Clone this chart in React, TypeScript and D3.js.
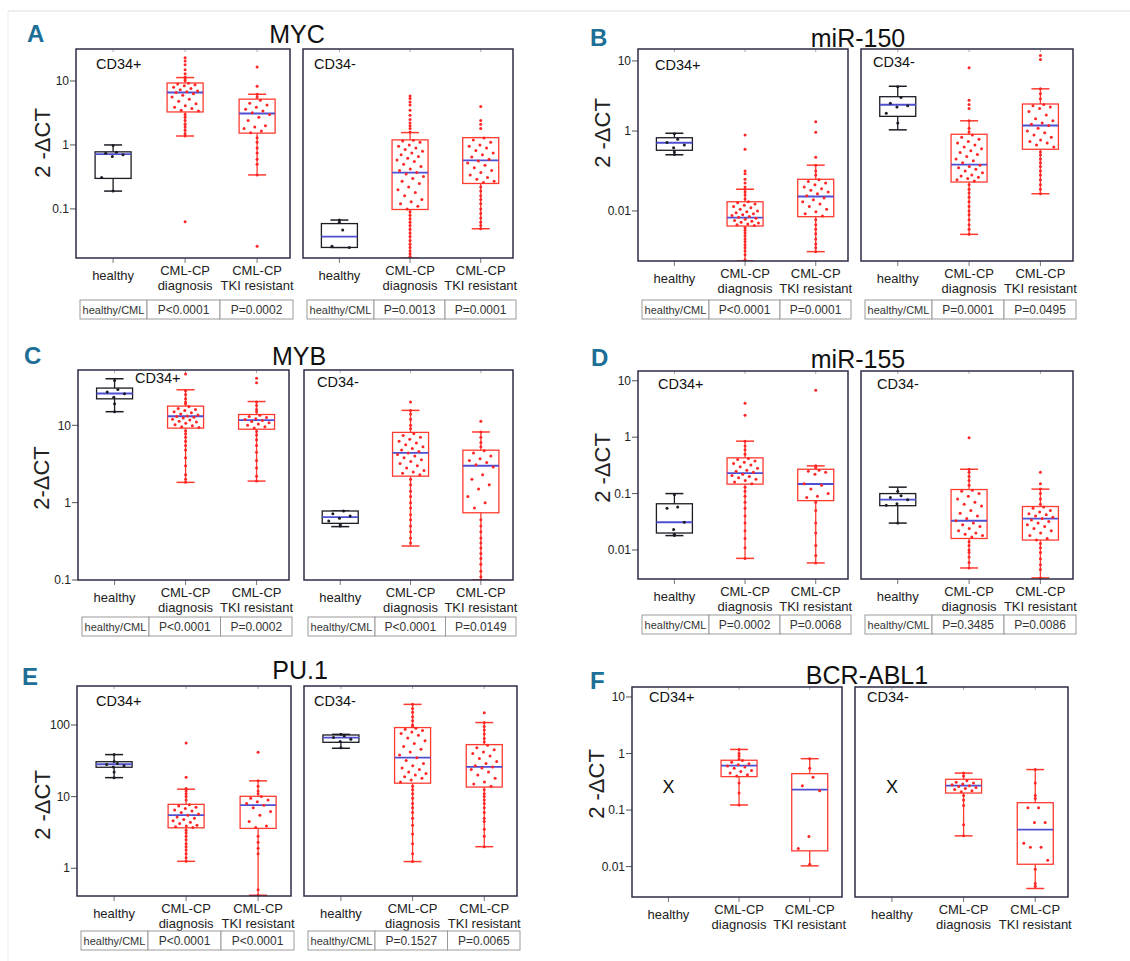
import React from 'react';
import * as d3 from 'd3';

// ---------- categories & labels ----------
const categories = ['healthy', 'CML-CP diagnosis', 'CML-CP TKI resistant'];
const categoryLines = [['healthy'], ['CML-CP', 'diagnosis'], ['CML-CP', 'TKI resistant']];
const subsetLabels = ['CD34+', 'CD34-'];
const tableHeader = 'healthy/CML';

// ---------- tick values ----------
const mycTicks = [0.1, 1, 10];
const mir150Ticks = [0.01, 1, 10];
const mybTicks = [0.1, 1, 10];
const mir155Ticks = [0.01, 0.1, 1, 10];
const pu1Ticks = [1, 10, 100];
const bcrTicks = [0.01, 0.1, 1, 10];

// ---------- box stats: [whiskerLow, q1, median, q3, whiskerHigh] ----------
// ---------- MYC ----------
const mycPlusStats = [[0.19, 0.30, 0.72, 0.78, 1.0], [1.38, 3.28, 6.6, 9.3, 11.3], [0.34, 1.53, 3.1, 5.2, 6.2]];
const mycPlusPoints = [
  [0.98, 0.77, 0.74, 0.70, 0.66, 0.31, 0.19],
  [23, 20.5, 18, 15, 13, 11.5, 10.8, 10.2, 9.2, 9.0, 8.7, 8.4, 8.0, 7.6, 7.3, 7.0, 6.8, 6.6, 6.3, 6.0, 5.6, 5.2, 4.8, 4.4, 4.1, 3.9, 3.7, 3.5, 3.4, 3.0, 2.7, 2.4, 2.1, 1.9, 1.7, 1.5, 1.38, 0.063],
  [16.5, 8.3, 6.2, 5.6, 5.0, 4.5, 4.2, 3.9, 3.6, 3.4, 3.2, 3.0, 2.7, 2.4, 2.0, 1.9, 1.8, 1.65, 1.55, 1.3, 1.1, 0.9, 0.75, 0.6, 0.5, 0.34, 0.026],
];
const mycMinusStats = [[0.025, 0.025, 0.037, 0.059, 0.067], [0.017, 0.098, 0.37, 1.2, 1.56], [0.049, 0.25, 0.575, 1.3, 1.3]];
const mycMinusPoints = [
  [0.067, 0.062, 0.047, 0.026, 0.025],
  [5.8, 5.3, 4.7, 4.2, 3.5, 2.9, 2.5, 2.2, 2.0, 1.8, 1.6, 1.18, 1.15, 1.1, 1.0, 0.95, 0.9, 0.85, 0.8, 0.75, 0.7, 0.66, 0.62, 0.58, 0.55, 0.5, 0.46, 0.42, 0.4, 0.37, 0.35, 0.32, 0.3, 0.27, 0.25, 0.22, 0.2, 0.18, 0.16, 0.14, 0.13, 0.12, 0.11, 0.1, 0.09, 0.08, 0.07, 0.062, 0.055, 0.048, 0.042, 0.037, 0.032, 0.028, 0.025, 0.022, 0.02, 0.018],
  [4.0, 2.4, 2.1, 1.8, 1.28, 1.2, 1.1, 1.0, 0.95, 0.9, 0.82, 0.75, 0.7, 0.65, 0.6, 0.56, 0.52, 0.48, 0.44, 0.4, 0.37, 0.34, 0.31, 0.29, 0.27, 0.26, 0.22, 0.19, 0.16, 0.14, 0.12, 0.1, 0.085, 0.072, 0.062, 0.055, 0.049],
];
const mycPValues = ['P<0.0001', 'P=0.0002', 'P=0.0013', 'P=0.0001'];

// ---------- miR-150 ----------
const mir150PlusStats = [[0.255, 0.33, 0.51, 0.68, 0.88], [0.00056, 0.0042, 0.0068, 0.017, 0.035], [0.00096, 0.0072, 0.023, 0.062, 0.14]];
const mir150PlusPoints = [
  [0.85, 0.62, 0.52, 0.45, 0.38, 0.30, 0.26],
  [0.8, 0.35, 0.1, 0.085, 0.062, 0.05, 0.04, 0.035, 0.03, 0.025, 0.02, 0.017, 0.016, 0.015, 0.014, 0.013, 0.012, 0.011, 0.01, 0.0095, 0.009, 0.0085, 0.008, 0.0077, 0.0073, 0.007, 0.0066, 0.0062, 0.0058, 0.0055, 0.0052, 0.005, 0.0047, 0.0045, 0.0043, 0.0038, 0.0033, 0.0028, 0.0024, 0.002, 0.0017, 0.0014, 0.0012, 0.001, 0.0008, 0.0006],
  [1.36, 0.93, 0.22, 0.14, 0.1, 0.08, 0.06, 0.055, 0.05, 0.045, 0.04, 0.036, 0.033, 0.03, 0.027, 0.024, 0.021, 0.019, 0.017, 0.015, 0.013, 0.011, 0.0095, 0.0085, 0.0075, 0.006, 0.0045, 0.0035, 0.0027, 0.002, 0.0015, 0.0012, 0.00096],
];
const mir150MinusStats = [[1.04, 1.62, 2.37, 3.09, 4.35], [0.0026, 0.053, 0.144, 0.83, 1.4], [0.027, 0.35, 1.2, 2.43, 4.0]];
const mir150MinusPoints = [
  [4.3, 3.0, 2.5, 2.3, 2.2, 1.8, 1.3],
  [8.0, 2.75, 2.4, 2.1, 1.4, 1.1, 0.95, 0.8, 0.7, 0.62, 0.55, 0.5, 0.45, 0.4, 0.36, 0.32, 0.29, 0.26, 0.23, 0.2, 0.18, 0.16, 0.14, 0.13, 0.12, 0.11, 0.1, 0.09, 0.08, 0.075, 0.07, 0.065, 0.06, 0.056, 0.045, 0.035, 0.028, 0.022, 0.017, 0.013, 0.01, 0.008, 0.006, 0.0045, 0.0035, 0.0026],
  [12, 10.5, 4.0, 3.4, 2.9, 2.4, 2.3, 2.2, 2.1, 1.9, 1.7, 1.5, 1.4, 1.3, 1.25, 1.2, 1.1, 1.0, 0.9, 0.8, 0.7, 0.6, 0.55, 0.5, 0.45, 0.4, 0.3, 0.25, 0.2, 0.16, 0.13, 0.1, 0.08, 0.06, 0.045, 0.035, 0.027],
];
const mir150PValues = ['P<0.0001', 'P=0.0001', 'P=0.0001', 'P=0.0495'];

// ---------- MYB ----------
const mybPlusStats = [[15, 22, 25.8, 30.3, 40], [1.83, 9.2, 13.1, 17.7, 28.8], [1.9, 8.9, 11.7, 13.8, 20.3]];
const mybPlusPoints = [
  [38, 29, 27, 25.5, 23, 19, 15],
  [46, 28, 25, 22, 20, 19, 17.5, 16.5, 16, 15.5, 15, 14.5, 14, 13.6, 13.2, 13, 12.7, 12.4, 12, 11.7, 11.3, 11, 10.6, 10.2, 9.9, 9.6, 9.4, 8.5, 7.8, 7.0, 6.2, 5.5, 4.8, 3.8, 3.0, 2.3, 2.0, 1.83],
  [40.5, 35.5, 20, 18, 16, 15, 13.5, 13, 12.6, 12.2, 11.9, 11.5, 11.2, 10.8, 10.4, 10, 9.6, 9.2, 8.3, 7.5, 6.5, 5.5, 4.5, 3.5, 2.8, 2.2, 1.9],
];
const mybMinusStats = [[0.49, 0.54, 0.65, 0.78, 0.78], [0.275, 2.2, 4.4, 8.1, 15.6], [0.1, 0.74, 3.0, 4.77, 8.2]];
const mybMinusPoints = [
  [0.78, 0.72, 0.67, 0.63, 0.58, 0.52, 0.5],
  [20, 15.6, 14, 12, 10, 9, 7.8, 7.4, 7, 6.6, 6.2, 5.9, 5.6, 5.3, 5, 4.8, 4.6, 4.4, 4.2, 4, 3.8, 3.6, 3.4, 3.2, 3, 2.8, 2.6, 2.5, 2.4, 2.3, 2.0, 1.7, 1.4, 1.2, 1.0, 0.85, 0.7, 0.6, 0.5, 0.42, 0.35, 0.3],
  [11.3, 8.2, 7, 6, 5.3, 4.7, 4.4, 4.0, 3.7, 3.5, 3.3, 3.1, 2.9, 2.3, 2.0, 1.7, 1.5, 1.2, 1.0, 0.85, 0.6, 0.5, 0.42, 0.35, 0.3, 0.26, 0.22, 0.19, 0.16, 0.13, 0.11, 0.1],
];
const mybPValues = ['P<0.0001', 'P=0.0002', 'P<0.0001', 'P=0.0149'];

// ---------- miR-155 ----------
const mir155PlusStats = [[0.018, 0.020, 0.031, 0.066, 0.10], [0.0071, 0.147, 0.23, 0.43, 0.85], [0.0059, 0.075, 0.148, 0.27, 0.31]];
const mir155PlusPoints = [
  [0.095, 0.058, 0.055, 0.031, 0.023, 0.019, 0.018],
  [4.0, 2.45, 0.85, 0.7, 0.6, 0.5, 0.42, 0.4, 0.38, 0.36, 0.34, 0.32, 0.3, 0.28, 0.26, 0.25, 0.24, 0.22, 0.21, 0.2, 0.19, 0.18, 0.17, 0.16, 0.15, 0.13, 0.11, 0.09, 0.07, 0.055, 0.04, 0.03, 0.022, 0.016, 0.011, 0.0071],
  [6.8, 0.31, 0.29, 0.26, 0.25, 0.24, 0.22, 0.15, 0.14, 0.12, 0.1, 0.09, 0.085, 0.07, 0.05, 0.03, 0.02, 0.012, 0.008, 0.0059],
];
const mir155MinusStats = [[0.03, 0.061, 0.078, 0.1, 0.13], [0.0048, 0.016, 0.033, 0.118, 0.27], [0.0032, 0.015, 0.036, 0.059, 0.12]];
const mir155MinusPoints = [
  [0.11, 0.092, 0.085, 0.078, 0.066, 0.062, 0.03],
  [0.98, 0.27, 0.24, 0.2, 0.17, 0.14, 0.115, 0.11, 0.1, 0.09, 0.08, 0.07, 0.065, 0.06, 0.05, 0.045, 0.04, 0.036, 0.033, 0.03, 0.028, 0.026, 0.024, 0.022, 0.02, 0.019, 0.018, 0.017, 0.014, 0.012, 0.01, 0.009, 0.0075, 0.006, 0.0048],
  [0.24, 0.15, 0.12, 0.1, 0.08, 0.065, 0.058, 0.055, 0.05, 0.047, 0.044, 0.042, 0.04, 0.038, 0.036, 0.034, 0.032, 0.03, 0.028, 0.026, 0.024, 0.022, 0.02, 0.018, 0.016, 0.015, 0.013, 0.011, 0.009, 0.007, 0.0055, 0.0045, 0.0032],
];
const mir155PValues = ['P=0.0002', 'P=0.0068', 'P=0.3485', 'P=0.0086'];

// ---------- PU.1 ----------
const pu1PlusStats = [[18.4, 25.7, 28.3, 30.7, 38.6], [1.25, 3.67, 5.5, 7.8, 12.7], [0.42, 3.6, 7.6, 10.1, 16.6]];
const pu1PlusPoints = [
  [38.6, 31, 29, 28, 27, 26, 22, 18.4],
  [56, 18.7, 13, 12, 11, 10, 9, 7.7, 7.4, 7.1, 6.8, 6.5, 6.3, 6.0, 5.7, 5.5, 5.2, 5.0, 4.8, 4.6, 4.4, 4.2, 4.0, 3.9, 3.8, 3.7, 3.4, 3.1, 2.8, 2.5, 2.2, 2.0, 1.8, 1.6, 1.4, 1.25],
  [41.6, 16.6, 14, 12, 11, 10, 9.5, 9, 8.5, 8, 7.6, 7, 6.2, 5.5, 4.5, 3.9, 3.7, 2.8, 2.3, 1.9, 1.6, 0.5, 0.42],
];
const pu1MinusStats = [[47.3, 57.3, 66.5, 72.5, 74], [1.24, 15.4, 35, 92, 194], [2.0, 13.6, 26, 53.2, 108]];
const pu1MinusPoints = [
  [74, 70, 67, 63, 59, 48],
  [194, 170, 150, 130, 115, 100, 95, 90, 87, 84, 80, 76, 72, 66, 60, 55, 50, 46, 42, 38, 35, 32, 29, 27, 25, 24, 22, 21, 20, 19, 18, 17, 16, 14, 12.5, 11, 9.5, 8, 7, 6, 5, 4, 3, 2.2, 1.6, 1.24],
  [148, 108, 95, 85, 75, 65, 58, 52, 48, 45, 42, 40, 37, 34, 31, 29, 27, 26, 25, 24, 22, 20, 18, 16, 15, 14, 12.5, 11, 10, 9, 8, 7, 6, 5, 4.5, 3.5, 2.8, 2.0],
];
const pu1PValues = ['P<0.0001', 'P<0.0001', 'P=0.1527', 'P=0.0065'];

// ---------- BCR-ABL1 (healthy not measured) ----------
const bcrPlusStats = [null, [0.123, 0.39, 0.61, 0.76, 1.18], [0.0103, 0.019, 0.23, 0.44, 0.81]];
const bcrPlusPoints = [
  [],
  [1.18, 1.0, 0.9, 0.8, 0.75, 0.7, 0.66, 0.63, 0.6, 0.58, 0.55, 0.5, 0.48, 0.45, 0.42, 0.4, 0.3, 0.2, 0.123],
  [0.81, 0.55, 0.38, 0.27, 0.22, 0.034, 0.021, 0.011],
];
const bcrMinusStats = [null, [0.035, 0.2, 0.27, 0.35, 0.45], [0.0041, 0.011, 0.045, 0.135, 0.52]];
const bcrMinusPoints = [
  [],
  [0.45, 0.4, 0.33, 0.31, 0.3, 0.29, 0.28, 0.27, 0.26, 0.25, 0.24, 0.23, 0.22, 0.21, 0.18, 0.15, 0.12, 0.055, 0.035],
  [0.52, 0.3, 0.18, 0.16, 0.11, 0.11, 0.06, 0.06, 0.026, 0.022, 0.022, 0.013, 0.009, 0.005, 0.0045],
];

// ---------- layout ----------
const PANELS = [
  {
    letter: 'A', title: 'MYC', letterXY: [27, 42], titleXY: [297, 43], yLabel: '2 -ΔCT', yLabelXY: [42, 143],
    yTop: 49, yBottom: 258, yDomain: [0.0171, 31.6], yFrac: [0, 1], ticks: mycTicks,
    boxes: [[76, 290], [303, 513]], cdXY: [[96, 69], [314, 69]], tableOffset: 42,
    stats: [mycPlusStats, mycMinusStats], points: [mycPlusPoints, mycMinusPoints], pvalues: mycPValues,
  },
  {
    letter: 'B', title: 'miR-150', letterXY: [590, 46], titleXY: [858, 47], yLabel: '2 -ΔCT', yLabelXY: [602, 133],
    yTop: 49, yBottom: 261, yDomain: [0.00056, 1, 14.8], yFrac: [0, 0.613, 1], ticks: mir150Ticks,
    boxes: [[638, 848], [861, 1073]], cdXY: [[655, 70], [873, 67]], tableOffset: 39,
    stats: [mir150PlusStats, mir150MinusStats], points: [mir150PlusPoints, mir150MinusPoints], pvalues: mir150PValues,
  },
  {
    letter: 'C', title: 'MYB', letterXY: [24, 364], titleXY: [299, 365], yLabel: '2-ΔCT', yLabelXY: [41, 478],
    yTop: 370, yBottom: 580, yDomain: [0.1, 51.9], yFrac: [0, 1], ticks: mybTicks,
    boxes: [[78, 289], [304, 513]], cdXY: [[135, 383], [317, 387]], tableOffset: 37,
    stats: [mybPlusStats, mybMinusStats], points: [mybPlusPoints, mybMinusPoints], pvalues: mybPValues,
  },
  {
    letter: 'D', title: 'miR-155', letterXY: [591, 366], titleXY: [858, 368], yLabel: '2 -ΔCT', yLabelXY: [602, 468],
    yTop: 371, yBottom: 579, yDomain: [0.00306, 14.9], yFrac: [0, 1], ticks: mir155Ticks,
    boxes: [[638, 848], [861, 1073]], cdXY: [[658, 389], [877, 389]], tableOffset: 36,
    stats: [mir155PlusStats, mir155MinusStats], points: [mir155PlusPoints, mir155MinusPoints], pvalues: mir155PValues,
  },
  {
    letter: 'E', title: 'PU.1', letterXY: [22, 685], titleXY: [300, 679], yLabel: '2 -ΔCT', yLabelXY: [42, 805],
    yTop: 686, yBottom: 896, yDomain: [0.41, 350], yFrac: [0, 1], ticks: pu1Ticks,
    boxes: [[77, 291], [304, 517]], cdXY: [[96, 706], [314, 706]], tableOffset: 35,
    stats: [pu1PlusStats, pu1MinusStats], points: [pu1PlusPoints, pu1MinusPoints], pvalues: pu1PValues,
  },
  {
    letter: 'F', title: 'BCR-ABL1', letterXY: [590, 689], titleXY: [867, 684], yLabel: '2 -ΔCT', yLabelXY: [596, 784],
    yTop: 687, yBottom: 897, yDomain: [0.0029, 15.0], yFrac: [0, 1], ticks: bcrTicks,
    boxes: [[632, 842], [855, 1068]], cdXY: [[649, 702], [867, 702]], tableOffset: null,
    stats: [bcrPlusStats, bcrMinusStats], points: [bcrPlusPoints, bcrMinusPoints], pvalues: null,
  },
];

const FONT = "'Liberation Sans', Arial, Helvetica, sans-serif";
const NARROW = "'Liberation Sans Narrow', 'Arial Narrow', sans-serif";
const FRAME = '#2d2d47';
const RED = '#ff3b30';
const DOT_RED = '#ff2626';
const HEALTHY = '#1c1c24';
const MEDIAN = '#4f4fd2';
const LETTER = '#1d6f97';
const BOX_W = 36;
const CAP_W = 18;

const jitter = (k: number) => ((((k + 1) * 0.6180339887) % 1) - 0.5) * 28;

function SubPlot({ p, s }: { p: any; s: number }) {
  const [x0, x1] = p.boxes[s];
  const x = d3.scalePoint<string>().domain(categories).range([x0, x1]).padding(0.486).align(0.53);
  const y = d3
    .scaleLog()
    .domain(p.yDomain)
    .range(p.yFrac.map((f: number) => p.yBottom - f * (p.yBottom - p.yTop)));
  const clipId = `clip-${p.letter}-${s}`;
  const stats = p.stats[s];
  const points = p.points[s];
  return (
    <g>
      <defs>
        <clipPath id={clipId}>
          <rect x={x0} y={p.yTop} width={x1 - x0} height={p.yBottom - p.yTop} />
        </clipPath>
      </defs>
      {categories.map((c) => (
        <g key={c}>
          <line x1={x(c)} x2={x(c)} y1={p.yBottom} y2={p.yBottom + 5} stroke="#777" strokeWidth={1} />
          <line x1={x(c)} x2={x(c)} y1={p.yTop} y2={p.yTop + 3} stroke="#aaa" strokeWidth={1} />
        </g>
      ))}
      {s === 0 &&
        p.ticks.map((t: number) => (
          <g key={t}>
            <line x1={x0 - 6} x2={x0} y1={y(t)} y2={y(t)} stroke="#555" strokeWidth={1} />
            <text x={x0 - 7} y={y(t)} dy="0.35em" textAnchor="end" fontSize={12} fontFamily={FONT} fill="#222">
              {String(t)}
            </text>
          </g>
        ))}
      <g clipPath={`url(#${clipId})`}>
        {categories.map((c, i) => {
          const st = stats[i];
          const cx = x(c) as number;
          if (!st) return null;
          const [lo, q1, med, q3, hi] = st;
          const col = i === 0 ? HEALTHY : RED;
          const dotCol = i === 0 ? HEALTHY : DOT_RED;
          let k = 0;
          return (
            <g key={c}>
              <line x1={cx} x2={cx} y1={y(lo)} y2={y(q1)} stroke={col} strokeWidth={1.3} />
              <line x1={cx} x2={cx} y1={y(q3)} y2={y(hi)} stroke={col} strokeWidth={1.3} />
              <line x1={cx - CAP_W / 2} x2={cx + CAP_W / 2} y1={y(lo)} y2={y(lo)} stroke={col} strokeWidth={1.5} />
              <line x1={cx - CAP_W / 2} x2={cx + CAP_W / 2} y1={y(hi)} y2={y(hi)} stroke={col} strokeWidth={1.5} />
              <rect x={cx - BOX_W / 2} y={y(q3)} width={BOX_W} height={y(q1) - y(q3)} fill="white" stroke={col} strokeWidth={1.3} />
              <line x1={cx - BOX_W / 2} x2={cx + BOX_W / 2} y1={y(med)} y2={y(med)} stroke={MEDIAN} strokeWidth={1.8} />
              {points[i].map((v: number, j: number) => {
                const inBox = v >= q1 && v <= q3;
                const px = inBox ? cx + jitter(k++) : cx;
                return <circle key={j} cx={px} cy={y(v)} r={1.5} fill={dotCol} />;
              })}
            </g>
          );
        })}
      </g>
      {categories.map((c, i) =>
        stats[i] ? null : (
          <text key={c} x={x(c)} y={(p.yTop + p.yBottom) / 2 + 1} textAnchor="middle" fontSize={18} fontFamily={FONT} fill="#111">
            X
          </text>
        )
      )}
      <rect x={x0} y={p.yTop} width={x1 - x0} height={p.yBottom - p.yTop} fill="none" stroke={FRAME} strokeWidth={1.5} />
      <text x={p.cdXY[s][0]} y={p.cdXY[s][1]} fontSize={14.5} fontFamily={FONT} fill="#111">
        {subsetLabels[s]}
      </text>
      {categories.map((c, i) => {
        const lines = categoryLines[i];
        if (lines.length === 1)
          return (
            <text key={c} x={x(c)} y={p.yBottom + 22} textAnchor="middle" fontSize={13} fontFamily={FONT} fill="#222">
              {lines[0]}
            </text>
          );
        return (
          <text key={c} x={x(c)} textAnchor="middle" fontSize={13} fontFamily={FONT} fill="#222">
            <tspan x={x(c)} y={p.yBottom + 17}>{lines[0]}</tspan>
            <tspan x={x(c)} y={p.yBottom + 32}>{lines[1]}</tspan>
          </text>
        );
      })}
      {p.pvalues && (() => {
        const tx0 = x0 + 4;
        const tx1 = x1 + 3;
        const ty = p.yBottom + p.tableOffset;
        const th = 19;
        const c1 = tx0 + 67;
        const c2 = c1 + (tx1 - c1) / 2;
        const cells = [
          { a: tx0, b: c1, t: tableHeader, fs: 11 },
          { a: c1, b: c2, t: p.pvalues[s * 2], fs: 12 },
          { a: c2, b: tx1, t: p.pvalues[s * 2 + 1], fs: 12 },
        ];
        return (
          <g>
            {cells.map((cell, ci) => (
              <g key={ci}>
                <rect x={cell.a} y={ty} width={cell.b - cell.a} height={th} fill="white" stroke="#9a9a9a" strokeWidth={1} />
                <text x={(cell.a + cell.b) / 2} y={ty + th - 5} textAnchor="middle" fontSize={cell.fs} fontFamily={FONT} fill="#333">
                  {cell.t}
                </text>
              </g>
            ))}
          </g>
        );
      })()}
    </g>
  );
}

function Panel({ p }: { p: any }) {
  return (
    <g>
      <text x={p.letterXY[0]} y={p.letterXY[1]} fontSize={24} fontWeight="bold" fontFamily={NARROW} fill={LETTER}>
        {p.letter}
      </text>
      <text x={p.titleXY[0]} y={p.titleXY[1]} textAnchor="middle" fontSize={25} fontFamily={FONT} fill="#111">
        {p.title}
      </text>
      <text
        transform={`translate(${p.yLabelXY[0]},${p.yLabelXY[1]}) rotate(-90)`}
        textAnchor="middle"
        dy="0.35em"
        fontSize={22}
        fontFamily={NARROW}
        fill="#222"
      >
        {p.yLabel}
      </text>
      <SubPlot p={p} s={0} />
      <SubPlot p={p} s={1} />
    </g>
  );
}

export default function App() {
  return (
    <svg
      width={1130}
      height={961}
      viewBox="0 0 1130 961"
      style={{ position: 'absolute', left: 0, top: 0, background: 'white' }}
    >
      <rect x={0} y={0} width={1130} height={961} fill="white" />
      <line x1={8} x2={1130} y1={11} y2={11} stroke="#dedede" strokeWidth={1.2} />
      <line x1={8} x2={8} y1={11} y2={961} stroke="#ececec" strokeWidth={1} />
      {PANELS.map((p) => (
        <Panel key={p.letter} p={p} />
      ))}
    </svg>
  );
}
